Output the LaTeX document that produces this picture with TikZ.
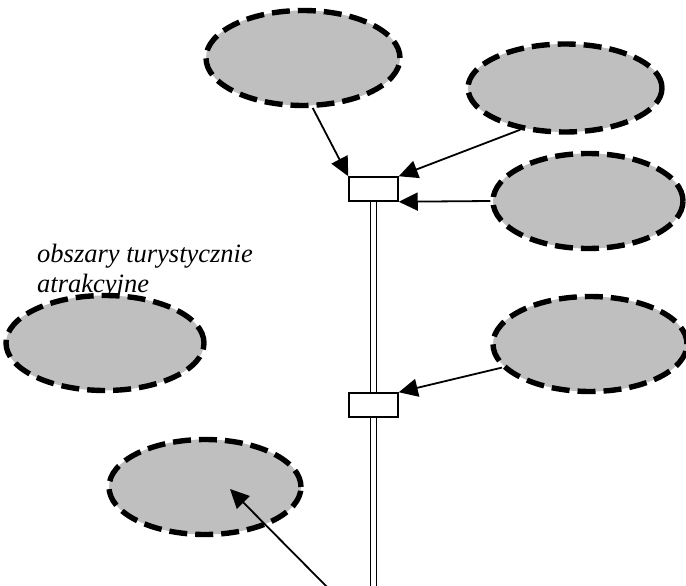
\documentclass[tikz,border=0pt]{standalone}
\usepackage{fontspec}
\setmainfont{Liberation Serif}
\usetikzlibrary{shapes.geometric,arrows.meta,calc}
\begin{document}
\begin{tikzpicture}[x=1pt,y=1pt,
  area/.style={ellipse, draw=black, fill=gray!50!white, line width=5.4pt,
    dash pattern=on 18pt off 8pt, minimum width=#1, minimum height=95pt, inner sep=0pt},
  area/.default=194pt,
  gate/.style={rectangle, draw=black, fill=white, line width=1.5pt,
    minimum width=49pt, minimum height=24pt, inner sep=0pt},
  feed/.style={line width=1.8pt, -{Triangle[length=19pt,width=18pt]}},
  trunk/.style={double, double distance=4.4pt, line width=1.5pt}]
\useasboundingbox (0,0) rectangle (686,-586);

% caption above the left area (anchored on the baseline of its last line)
\node[anchor=base west, align=left, inner sep=0pt,
  font=\fontsize{26.5pt}{30pt}\selectfont\itshape] (cap) at (37,-292)
  {obszary turystycznie\\atrakcyjne};

% areas
\node[area] (e1) at (303,-58) {};
\node[area, minimum height=88pt] (e2) at (565,-88) {};
\node[area, minimum width=190pt] (e3) at (588,-201) {};
\node[area] (e4) at (590,-344) {};
\node[area, minimum width=198pt] (e5) at (105,-343) {};
\node[area, minimum width=192pt] (e6) at (205,-487) {};

% junction boxes
\node[gate] (b1) at (373.5,-189) {};
\node[gate] (b2) at (373.5,-405) {};
\coordinate (base) at (373.5,-592);
\coordinate (foot) at (332,-592);

% main line
\draw[trunk] (b1.south) -- (b2.north);
\draw[trunk] (b2.south) -- (base);

% feeders
\draw[feed] (e1.-79) -- (b1.north west);
\draw[feed] (e2.-137) -- (b1.north east);
\draw[feed] (e3.west) -- (b1.south east);
\draw[feed] (e4.195) -- (b2.north east);
\draw[feed] (foot) -- ($(e6.center)+(25,-2)$);
\end{tikzpicture}
\end{document}
